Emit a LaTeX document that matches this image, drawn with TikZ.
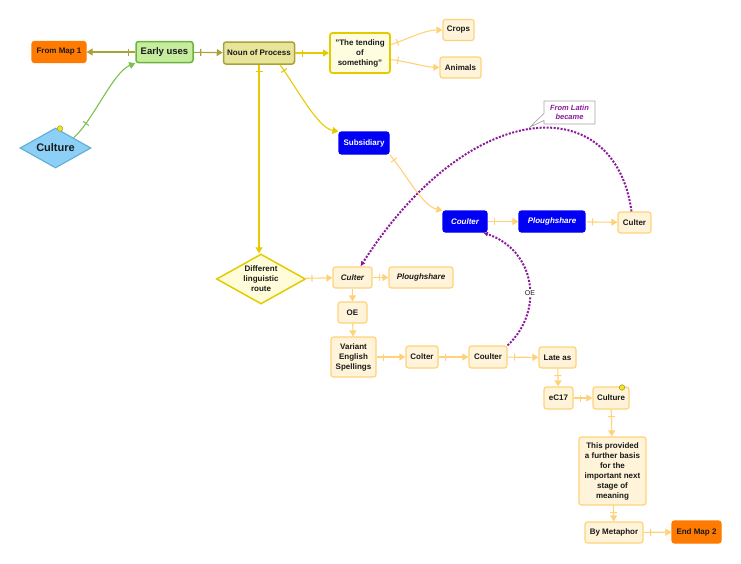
\documentclass[tikz,border=0pt]{standalone}
\usepackage{fontspec}
\setmainfont{Liberation Sans}
\usetikzlibrary{shapes.geometric,shapes.callouts,decorations.markings,arrows.meta}

\definecolor{olv}{HTML}{A9A23A}
\definecolor{grn}{HTML}{7CC04E}
\definecolor{gld}{HTML}{E6CA00}
\definecolor{lor}{HTML}{FFD27A}
\definecolor{cream}{HTML}{FFF3D9}
\definecolor{prp}{HTML}{8B1A9B}
\definecolor{org}{HTML}{FF7A00}
\definecolor{blu}{HTML}{0000F5}
\definecolor{txt}{HTML}{1A1A1A}
\definecolor{skyf}{HTML}{8CD0F7}
\definecolor{skyd}{HTML}{62B2D6}
\definecolor{eugf}{HTML}{C6EC9E}
\definecolor{eugd}{HTML}{6CB43C}
\definecolor{npf}{HTML}{E8E49A}
\definecolor{dotf}{HTML}{F3E41C}

\tikzstyle{box}=[draw=lor,fill=cream,line width=1.2pt,rounded corners=2.5pt,text=txt,font=\fontsize{8}{10}\selectfont\bfseries,inner sep=1.5pt,align=center,minimum height=21pt]
\tikzstyle{bbox}=[box,draw=blu,fill=blu,text=white]
\tikzstyle{obox}=[box,draw=org,fill=org]
\tikzstyle{lnk}=[-{Triangle[length=6pt,width=7pt]},line width=1.1pt,postaction=decorate]
\tikzstyle{ptr}=[prp,line width=2pt,dash pattern=on 2pt off 1.5pt,-{Latex[length=5pt,width=5pt]}]
\tikzstyle{dot}=[circle,draw=olv,fill=dotf,line width=0.6pt,inner sep=0pt,minimum size=5.5pt]

\begin{document}
\begin{tikzpicture}[x=1pt,y=-1pt,decoration={markings,mark=at position 7pt with {\draw[-,solid] (0,-3.5pt) -- (0,3.5pt);}}]
	\useasboundingbox (0,0) rectangle (741,563);
	% top row
	\node[obox, minimum width=54pt] (fm) at (59,52) {From Map 1};
	\node[box, draw=eugd, fill=eugf, line width=1.5pt, minimum width=57pt, font=\fontsize{9.5}{11}\selectfont\bfseries] (eu) at (164.5,52) {Early uses};
	\node[box, draw=olv, fill=npf, line width=1.5pt, minimum width=71pt, minimum height=22pt] (np) at (259,53) {Noun of Process};
	\node[box, draw=gld, fill=yellow!12, line width=1.8pt, minimum width=60pt, minimum height=40pt] (td) at (360,53) {"The tending\\of\\something"};
	\node[box, minimum width=31pt] (cr) at (458.5,30) {Crops};
	\node[box, minimum width=41pt] (an) at (460.5,67.5) {Animals};
	\node[diamond, draw=skyd, fill=skyf, line width=1.2pt, shape aspect=1.8, minimum width=71pt, minimum height=40pt, inner sep=0pt, text=txt, font=\fontsize{11}{13}\selectfont\bfseries] (cul) at (55.5,148) {Culture};
	\node[dot] (d1) at (60,128.5) {};
	% middle
	\node[bbox, minimum width=50pt, minimum height=22pt] (sub) at (364,143) {Subsidiary};
	\node[bbox, minimum width=44pt, font=\fontsize{8}{10}\selectfont\bfseries\itshape] (cb) at (465,221.5) {Coulter};
	\node[bbox, minimum width=66pt, font=\fontsize{8}{10}\selectfont\bfseries\itshape] (pb) at (552,221.5) {Ploughshare};
	\node[box, minimum width=33pt] (cr2) at (634.5,222.5) {Culter};
	\node[rectangle callout, callout absolute pointer={(530,127)}, draw=gray!70, fill=white, line width=0.7pt, text=prp, align=center, inner sep=1pt, minimum width=51pt, minimum height=23pt, font=\fontsize{7.5}{9.5}\selectfont\bfseries\itshape] (lat) at (569.5,112.5) {From Latin\\became};
	\node[diamond, draw=gld, fill=yellow!15, line width=1.5pt, shape aspect=1.78, minimum width=89pt, minimum height=50pt, inner sep=-3pt, text=txt, align=center, font=\fontsize{8}{10}\selectfont\bfseries] (dlr) at (261,279) {Different\\linguistic\\route};
	\node[box, minimum width=39pt, font=\fontsize{8}{10}\selectfont\bfseries\itshape] (cit) at (352.5,277.5) {Culter};
	\node[box, minimum width=64pt, font=\fontsize{8}{10}\selectfont\bfseries\itshape] (pit) at (421,277.5) {Ploughshare};
	\node[box, minimum width=29pt] (oe) at (352.5,312.5) {OE};
	\node[box, minimum width=45pt, minimum height=40pt] (ves) at (353.5,357) {Variant\\English\\Spellings};
	\node[box, minimum width=32pt, minimum height=22pt] (co) at (422,357) {Colter};
	\node[box, minimum width=38pt, minimum height=22pt] (cl) at (488,357) {Coulter};
	\node[box, minimum width=37pt] (la) at (557.5,357.5) {Late as};
	% bottom
	\node[box, minimum width=29pt, minimum height=22pt] (ec) at (558.5,398) {eC17};
	\node[box, minimum width=36pt, minimum height=22pt] (cu) at (611,398) {Culture};
	\node[dot] (d2) at (622,387.5) {};
	\node[box, minimum width=67pt, minimum height=68pt] (tp) at (612.5,471) {This provided\\a further basis\\for the\\important next\\stage of\\meaning};
	\node[box, minimum width=58pt] (bm) at (614,532.5) {By Metaphor};
	\node[obox, minimum width=49pt, minimum height=22pt] (em) at (696.5,532) {End Map 2};
	% links
	\draw[lnk, color=olv] (eu) -- (fm);
	\draw[lnk, color=olv] (eu) -- (np);
	\draw[lnk, color=grn, decoration={markings,reset marks,mark=at position 19pt with {\draw[-] (0,-3.5pt) -- (0,3.5pt);}}] (cul.north east) .. controls (93,121) and (113,72) .. (eu.south west);
	\draw[lnk, color=gld] (np) -- (td);
	\draw[lnk, color=lor] (td.15) .. controls (410,38) and (425,30) .. (cr.west);
	\draw[lnk, color=lor] (td.-12) .. controls (410,62) and (425,67) .. (an.west);
	\draw[lnk, color=gld] ([xshift=21pt]np.south) .. controls (298,90) and (318,128) .. (sub.north west);
	\draw[lnk, color=gld] (np.south) -- (np.south |- dlr.north);
	\draw[lnk, color=lor] (sub.south east) .. controls (405,172) and (422,206) .. (cb.north west);
	\draw[lnk, color=lor] (cb) -- (pb);
	\draw[lnk, color=lor] (pb) -- (cr2);
	\draw[ptr] ([xshift=-3pt]cr2.north) .. controls (615,90) and (470,95) .. ([xshift=8pt]cit.north);
	\draw[ptr] (cl.north east) .. controls (545,310) and (535,250) .. node[pos=0.42, fill=white, inner sep=0.5pt, text=txt, font=\fontsize{7}{8}\selectfont] (oel) {OE} ([xshift=18pt]cb.south);
	\draw[lnk, color=lor] (dlr) -- (cit);
	\draw[lnk, color=lor] (cit) -- (pit);
	\draw[-{Triangle[length=6pt,width=7pt]}, line width=1.1pt, color=lor] (cit) -- (oe);
	\draw[-{Triangle[length=6pt,width=7pt]}, line width=1.1pt, color=lor] (oe) -- (ves);
	\draw[lnk, color=lor] (ves) -- (co);
	\draw[lnk, color=lor] (co) -- (cl);
	\draw[lnk, color=lor] (cl) -- (la);
	\draw[lnk, color=lor] (la) -- (ec);
	\draw[lnk, color=lor] (ec) -- (cu);
	\draw[lnk, color=lor] (cu) -- (tp);
	\draw[lnk, color=lor] (tp) -- (bm);
	\draw[lnk, color=lor] (bm) -- (em);
\end{tikzpicture}
\end{document}
